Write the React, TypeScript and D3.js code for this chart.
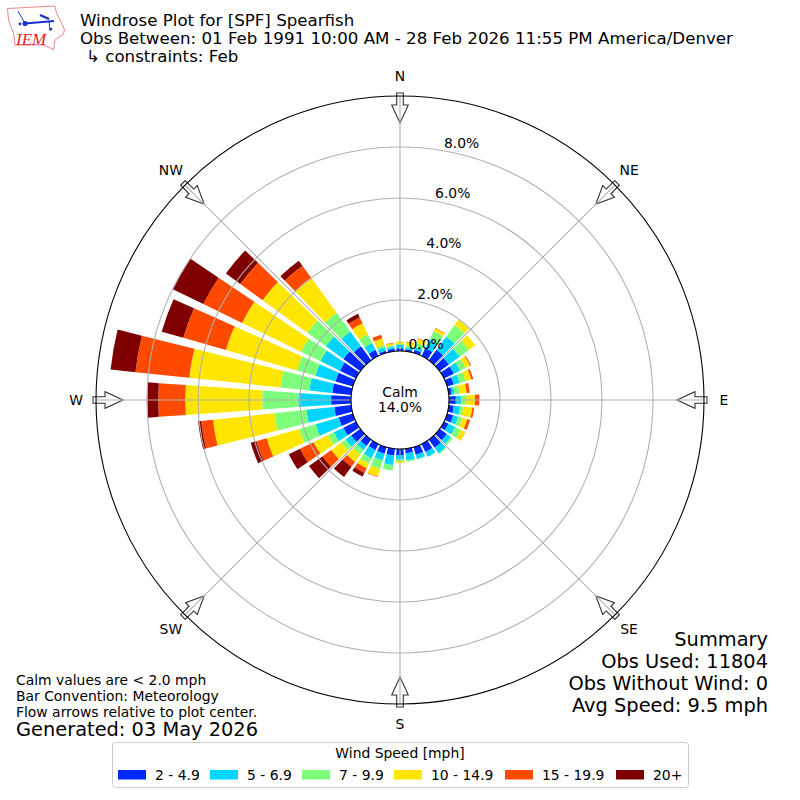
import React from "react";
import * as d3 from "d3";

const directions = d3.range(0, 360, 10);
const speedBins = ["2 - 4.9", "5 - 6.9", "7 - 9.9", "10 - 14.9", "15 - 19.9", "20+"];
const binColors = ["#0028ff", "#00d4ff", "#7cff79", "#ffe600", "#ff4a00", "#7f0000"];

const s2to5 = [.11,.08,.12,.35,.51,.45,.43,.27,.12,.27,.2,.25,.2,.35,.39,.35,.31,.18,.24,.27,.27,.27,.31,.45,.55,.58,.67,.78,.75,.71,.7,.82,.68,.27,.09,.1];
const s5to7 = [.13,.08,.12,.39,.65,.52,.27,.24,.11,.2,.25,.2,.29,.2,.27,.2,.18,.27,.18,.37,.27,.35,.2,.27,.42,.94,1.1,1.29,.9,.82,.85,.85,.72,.3,.14,.08];
const s7to10 = [.04,.08,.16,.35,.56,.45,.24,.24,.19,.2,.12,.17,.24,.08,.04,.02,.02,.06,.06,.22,.35,.24,.2,.2,.25,.67,1.25,1.41,1.14,.75,.85,.9,.91,.37,.09,.06];
const s10to15 = [.09,.12,.18,.12,.25,.31,.2,.24,.29,.35,.36,.2,.2,0,0,0,0,0,.07,0,.31,.2,.37,.49,.63,1.33,2.43,3.02,3.6,2.9,2.57,2.17,1.68,.49,.28,.08];
const s15to20 = [0,.02,.02,.02,0,0,.04,.08,.12,.17,.07,.12,.01,0,0,0,0,0,0,0,.02,.2,.24,.43,.59,.42,.47,1.06,2.12,1.74,1.69,1.08,.6,.25,.14,.02];
const s20plus = [0,0,0,0,0,0,0,0,0,0,0,0,0,0,0,0,0,0,0,0,0,.16,.49,.65,.49,.23,.12,.43,.98,.88,1.33,.7,.24,.16,0,0];
const seriesValues = [s2to5, s5to7, s7to10, s10to15, s15to20, s20plus];

const ringTicks = [0, 2, 4, 6, 8];
const compass = [
  { label: "N", deg: 0 }, { label: "NE", deg: 45 }, { label: "E", deg: 90 }, { label: "SE", deg: 135 },
  { label: "S", deg: 180 }, { label: "SW", deg: 225 }, { label: "W", deg: 270 }, { label: "NW", deg: 315 },
];
const legendSwatchX = [118, 210, 302, 394, 505, 616];
const titleLines = [
  "Windrose Plot for [SPF] Spearfish",
  "Obs Between: 01 Feb 1991 10:00 AM - 28 Feb 2026 11:55 PM America/Denver",
  "↳ constraints: Feb",
];
const summaryLines = ["Summary", "Obs Used: 11804", "Obs Without Wind: 0", "Avg Speed: 9.5 mph"];
const noteLines = ["Calm values are < 2.0 mph", "Bar Convention: Meteorology", "Flow arrows relative to plot center."];

const CX = 400, CY = 400;
const FONT = "'DejaVu Sans', sans-serif";
const r = d3.scaleLinear().domain([0, 10]).range([49, 304]);
const rad = (d: number) => (d * Math.PI) / 180;
const arc = d3.arc<any>();
const stacks = directions.map((_, i) => {
  let acc = 0;
  return seriesValues.map((s) => {
    const start = acc;
    acc += s[i];
    return [start, acc];
  });
});

function Arrow({ deg }: { deg: number }) {
  const pts = [[-3.3, -307], [3.3, -307], [3.3, -295], [8.3, -295], [0, -277], [-8.3, -295], [-3.3, -295]];
  return (
    <polygon
      points={pts.map((p) => p.join(",")).join(" ")}
      transform={`translate(${CX},${CY}) rotate(${deg})`}
      fill="#fff"
      stroke="#333"
      strokeWidth={1.1}
    />
  );
}

function Logo() {
  return (
    <g>
      <path
        d="M7.5,8.5 L55,6 L56.5,13 L59.5,19 L64.5,29.5 L63.5,34 L55,40 L53.5,49.5 L43.5,45 L15,45 L13.5,33 L8.5,20 Z"
        fill="#fff" stroke="#e77" strokeWidth={0.9}
      />
      <g stroke="#1a2fd0" fill="none" strokeWidth={1.6}>
        <path d="M25,23.5 L54,21" strokeWidth={2} />
        <path d="M18,11 L22,18 L25,23.5" strokeWidth={1} />
        <path d="M40,15 L49,19" strokeWidth={2.4} />
        <path d="M49,21 L50,31" strokeWidth={1} />
      </g>
      <circle cx={25} cy={23.5} r={2.5} fill="#1a2fd0" />
      <circle cx={20} cy={24} r={1.4} fill="#1a2fd0" />
      <circle cx={51} cy={29} r={1.3} fill="#1a2fd0" />
      <text x={16} y={44.5} fontFamily="'Liberation Serif', serif" fontStyle="italic" fontSize={17} fill="#d22">IEM</text>
    </g>
  );
}

export default function App() {
  return (
    <svg
      width={800} height={800} viewBox="0 0 800 800"
      style={{ position: "absolute", left: 0, top: 0, display: "block", background: "#fff" }}
      fontFamily={FONT}
    >
      <Logo />
      {titleLines.map((t, i) => (
        <text key={t} x={i === 2 ? 86 : 80} y={26 + i * 18} fontSize={16.67} fill="#000">{t}</text>
      ))}

      <g transform={`translate(${CX},${CY})`}>
        {directions.map((d, i) =>
          stacks[i].map(([a, b], j) =>
            b > a ? (
              <path
                key={`${d}-${j}`}
                fill={binColors[j]}
                d={arc({ innerRadius: r(a), outerRadius: r(b), startAngle: rad(d - 4), endAngle: rad(d + 4) }) as string}
              />
            ) : null
          )
        )}
      </g>

      {compass.map((c) => <Arrow key={c.label} deg={c.deg} />)}

      <g transform={`translate(${CX},${CY})`} fill="none" stroke="#b0b0b0" strokeWidth={1.1}>
        {ringTicks.slice(1).map((t) => <circle key={t} r={r(t)} />)}
        {compass.map((c) => (
          <line
            key={c.label}
            x1={r(0) * Math.sin(rad(c.deg))} y1={-r(0) * Math.cos(rad(c.deg))}
            x2={r(10) * Math.sin(rad(c.deg))} y2={-r(10) * Math.cos(rad(c.deg))}
          />
        ))}
        <circle r={r(10)} stroke="#000" strokeWidth={1.1} />
        <circle r={r(0)} stroke="#000" strokeWidth={1.1} />
      </g>

      {compass.map((c) => (
        <text
          key={c.label}
          x={CX + 324 * Math.sin(rad(c.deg))}
          y={CY - 324 * Math.cos(rad(c.deg)) + 4.5}
          textAnchor="middle" fontSize={13.9} fill="#000"
        >{c.label}</text>
      ))}
      {ringTicks.map((t) => (
        <text
          key={t}
          x={CX + r(t) * Math.sin(rad(10))}
          y={CY - r(t) * Math.cos(rad(10)) - 3}
          textAnchor="start" fontSize={13.9} fill="#000"
        >{t.toFixed(1)}%</text>
      ))}

      <text x={CX} y={397} textAnchor="middle" fontSize={13.9}>Calm</text>
      <text x={CX} y={412} textAnchor="middle" fontSize={13.9}>14.0%</text>

      {summaryLines.map((t, i) => (
        <text key={t} x={768} y={646 + i * 22} textAnchor="end" fontSize={19.4}>{t}</text>
      ))}
      {noteLines.map((t, i) => (
        <text key={t} x={16} y={685 + i * 16} fontSize={13.9}>{t}</text>
      ))}
      <text x={16} y={736} fontSize={19.4}>Generated: 03 May 2026</text>

      <rect x={112.5} y={742.5} width={576} height={45} rx={3} fill="#fff" stroke="#ccc" />
      <text x={400} y={758} textAnchor="middle" fontSize={13.9}>Wind Speed [mph]</text>
      {speedBins.map((b, i) => (
        <g key={b}>
          <rect x={legendSwatchX[i]} y={770} width={28} height={9.5} fill={binColors[i]} />
          <text x={legendSwatchX[i] + 37} y={779.5} fontSize={13.9}>{b}</text>
        </g>
      ))}
    </svg>
  );
}
